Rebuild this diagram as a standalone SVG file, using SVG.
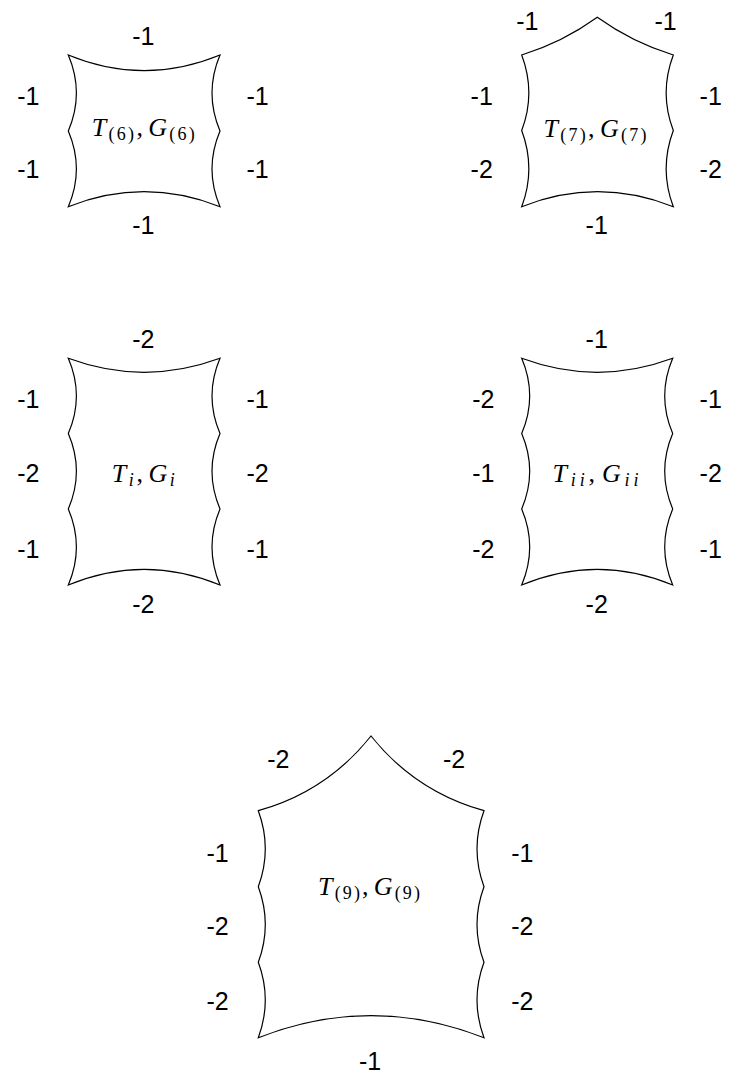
<svg xmlns="http://www.w3.org/2000/svg" width="729" height="1078" viewBox="0 0 729 1078">
<style>
.s{fill:none;stroke:#000;stroke-width:1.2;stroke-linejoin:miter}
.n{font-family:"Liberation Sans",Arial,sans-serif;font-size:25px;text-anchor:middle;fill:#000}
.m{font-family:"Liberation Serif","DejaVu Serif",serif;font-size:26px;text-anchor:middle;fill:#000}
.it{font-style:italic}
.sb{font-size:18px}
</style>
<rect width="729" height="1078" fill="#fff"/>
<g id="node-T6">
<path class="s" d="M68.3,55 Q144,86.4 220,55 Q204,93 220,131 Q204,169 220,206.7 Q144,176.7 68.3,206.7 Q84.5,169 68.3,131 Q84.5,93 68.3,55 Z"/>
<text class="n" x="143.3" y="45">-1</text>
<text class="n" x="28.3" y="105">-1</text>
<text class="n" x="28.3" y="178">-1</text>
<text class="n" x="257.5" y="105">-1</text>
<text class="n" x="257.5" y="178">-1</text>
<text class="n" x="143.3" y="234">-1</text>
<text class="m" x="143.3" y="136" textLength="103"><tspan class="it">T</tspan><tspan class="sb" dy="4">(6)</tspan><tspan dy="-4">,</tspan><tspan class="it" dx="3">G</tspan><tspan class="sb" dy="4">(6)</tspan></text>
</g>
<g id="node-T7">
<path class="s" d="M521.7,55 Q562.6,42.4 597.3,17.3 Q632.2,42.4 673.3,55 Q659,93 673.3,130.5 Q659,169 673.3,206.7 Q597.5,176.7 521.7,206.7 Q536,169 521.7,130.5 Q536,93 521.7,55 Z"/>
<text class="n" x="527.3" y="29.5">-1</text>
<text class="n" x="665.5" y="29.5">-1</text>
<text class="n" x="481.7" y="105">-1</text>
<text class="n" x="481.7" y="178">-2</text>
<text class="n" x="710.7" y="105">-1</text>
<text class="n" x="710.7" y="178">-2</text>
<text class="n" x="596.7" y="234">-1</text>
<text class="m" x="595" y="137" textLength="103"><tspan class="it">T</tspan><tspan class="sb" dy="4">(7)</tspan><tspan dy="-4">,</tspan><tspan class="it" dx="3">G</tspan><tspan class="sb" dy="4">(7)</tspan></text>
</g>
<g id="node-Ti">
<path class="s" d="M68.3,358.3 Q144,386.3 220,358.3 Q204,396 220,433.5 Q204,471 220,509 Q204,547 220,585 Q144,553.6 68.3,585 Q84.5,547 68.3,509 Q84.5,471 68.3,433.5 Q84.5,396 68.3,358.3 Z"/>
<text class="n" x="143.3" y="348.3">-2</text>
<text class="n" x="28.3" y="408.3">-1</text>
<text class="n" x="28.3" y="481.7">-2</text>
<text class="n" x="28.3" y="558.3">-1</text>
<text class="n" x="257.5" y="408.3">-1</text>
<text class="n" x="257.5" y="481.7">-2</text>
<text class="n" x="257.5" y="558.3">-1</text>
<text class="n" x="143.3" y="613.3">-2</text>
<text class="m" x="143.3" y="481.7" textLength="63"><tspan class="it">T</tspan><tspan class="sb it" dy="4">i</tspan><tspan dy="-4">,</tspan><tspan class="it" dx="3">G</tspan><tspan class="sb it" dy="4">i</tspan></text>
</g>
<g id="node-Tii">
<path class="s" d="M521.7,358.3 Q597.2,386.3 672.7,358.3 Q656.7,396 672.7,433.5 Q656.7,471 672.7,509 Q656.7,547 672.7,585 Q597.2,553.6 521.7,585 Q537.7,547 521.7,509 Q537.7,471 521.7,433.5 Q537.7,396 521.7,358.3 Z"/>
<text class="n" x="596.7" y="348.3">-1</text>
<text class="n" x="483.3" y="408.3">-2</text>
<text class="n" x="483.3" y="481.7">-1</text>
<text class="n" x="483.3" y="558.3">-2</text>
<text class="n" x="710.7" y="408.3">-1</text>
<text class="n" x="710.7" y="481.7">-2</text>
<text class="n" x="710.7" y="558.3">-1</text>
<text class="n" x="596.7" y="613.3">-2</text>
<text class="m" x="595.5" y="481.7" textLength="86"><tspan class="it">T</tspan><tspan class="sb it" dy="4">ii</tspan><tspan dy="-4">,</tspan><tspan class="it" dx="3">G</tspan><tspan class="sb it" dy="4">ii</tspan></text>
</g>
<g id="node-T9">
<path class="s" d="M258.3,810.7 Q326.8,791.6 371,736 Q415.5,791.6 484,810.7 Q470,848.7 484,886.7 Q470,924.5 484,962.3 Q470,1000 484,1037.7 Q371,993.7 258.3,1037.7 Q272.3,1000 258.3,962.3 Q272.3,924.5 258.3,886.7 Q272.3,848.7 258.3,810.7 Z"/>
<text class="n" x="278.3" y="768.3">-2</text>
<text class="n" x="454" y="768.3">-2</text>
<text class="n" x="217.5" y="861.7">-1</text>
<text class="n" x="217.5" y="935">-2</text>
<text class="n" x="217.5" y="1010">-2</text>
<text class="n" x="522.3" y="861.7">-1</text>
<text class="n" x="522.3" y="935">-2</text>
<text class="n" x="522.3" y="1010">-2</text>
<text class="n" x="370" y="1070">-1</text>
<text class="m" x="369" y="895" textLength="102"><tspan class="it">T</tspan><tspan class="sb" dy="4">(9)</tspan><tspan dy="-4">,</tspan><tspan class="it" dx="3">G</tspan><tspan class="sb" dy="4">(9)</tspan></text>
</g>
</svg>
